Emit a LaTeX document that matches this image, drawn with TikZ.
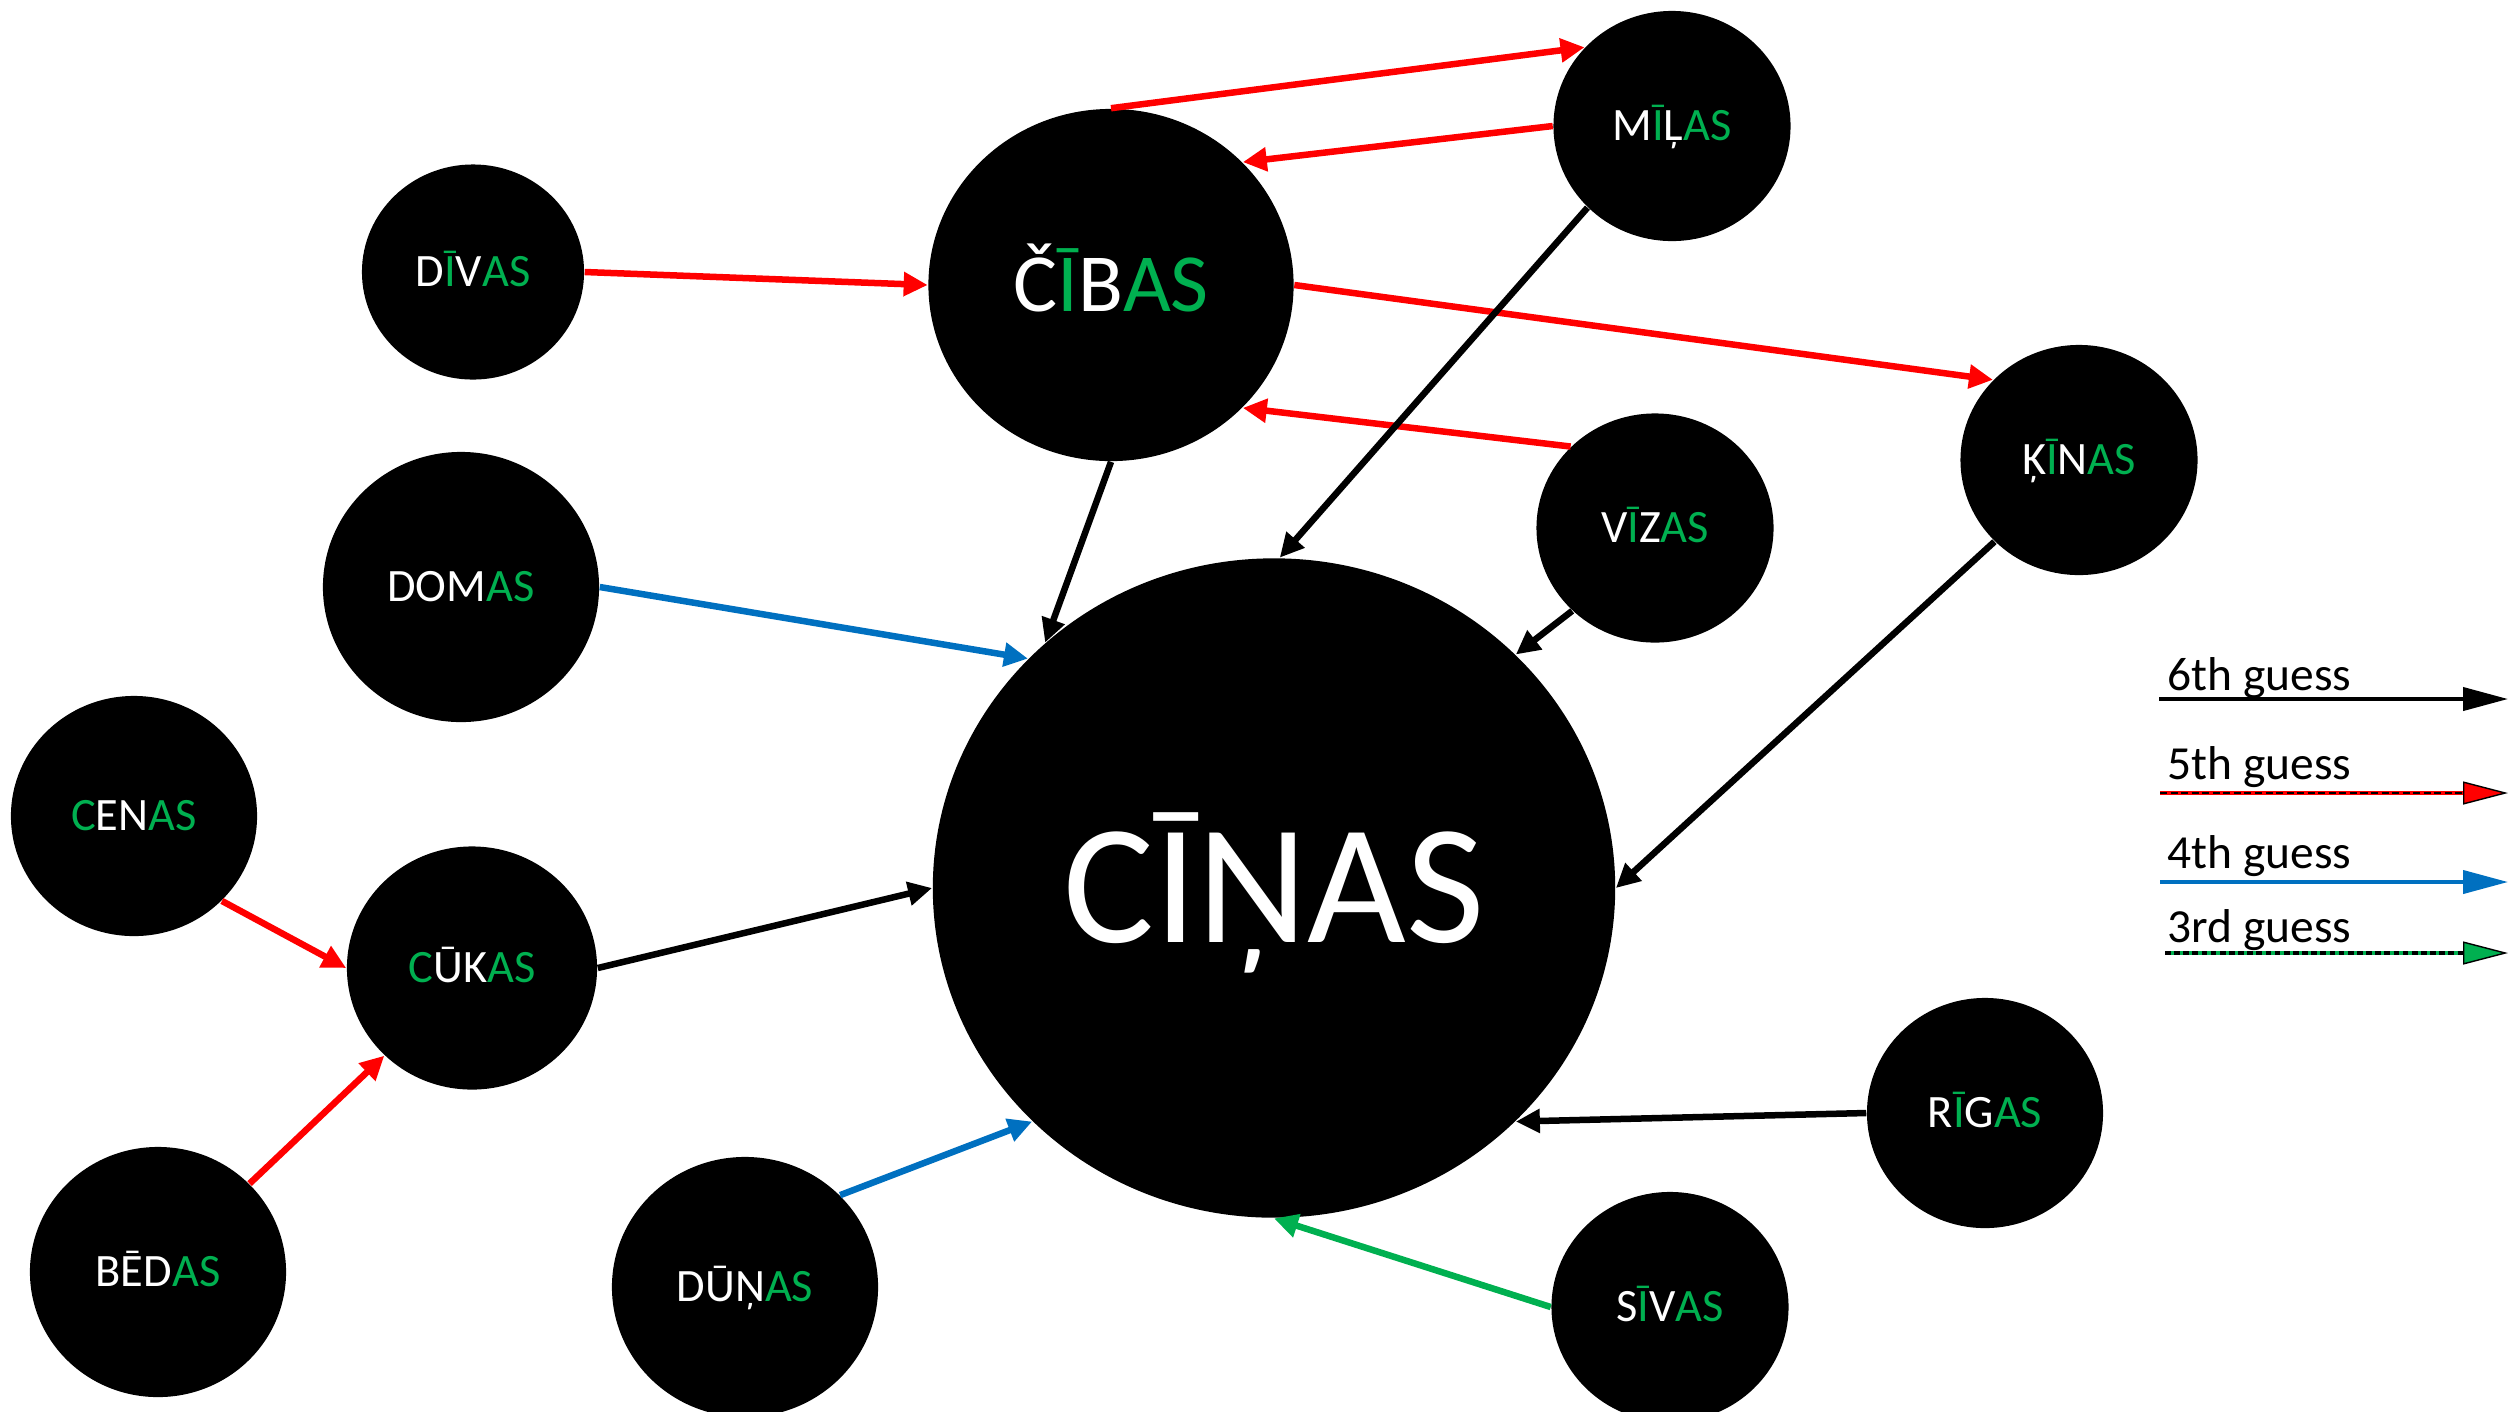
\documentclass[tikz,border=0pt]{standalone}
\usepackage{fontspec}
\setmainfont{Carlito}
\usetikzlibrary{arrows.meta}
\usetikzlibrary{shapes.geometric}

\definecolor{hitgreen}{RGB}{0,176,80}
\definecolor{guessblue}{RGB}{0,112,192}
\newcommand{\hit}[1]{\textcolor{hitgreen}{#1}}

\begin{document}
\begin{tikzpicture}[x=0.01cm,y=-0.01cm,>/.tip={Triangle[length=0.24cm,width=0.23cm]},
	word/.style={shape=ellipse,fill=black,inner sep=0pt,text=white,text height=8.3pt,text depth=0pt,font=\fontsize{13.2}{16}\selectfont},
	sixth/.style={black,line width=0.065cm},
	fifth/.style={red,line width=0.065cm},
	fourth/.style={guessblue,line width=0.065cm},
	third/.style={hitgreen,line width=0.065cm},
	key/.style={line width=0.04cm},
	keytext/.style={anchor=base west,inner sep=0pt,font=\fontsize{13.5}{16}\selectfont}]
	\clip (0,0) rectangle (2509,1411);

	\draw (1274,888) node (cinas) [word,minimum width=6.82cm,minimum height=6.59cm,text height=30.7pt,font=\fontsize{48.5}{56}\selectfont] {CĪŅAS};
	\draw (1111,285) node (cibas) [word,minimum width=3.65cm,minimum height=3.52cm,text height=14.9pt,font=\fontsize{23.5}{28}\selectfont] {Č\hit{Ī}B\hit{AS}};

	\draw (1672,126) node (milas) [word,minimum width=2.37cm,minimum height=2.30cm] {M\hit{Ī}Ļ\hit{AS}};
	\draw (473,272) node (divas) [word,minimum width=2.22cm,minimum height=2.15cm] {D\hit{Ī}V\hit{AS}};
	\draw (461,587) node (domas) [word,minimum width=2.76cm,minimum height=2.70cm] {DOM\hit{AS}};
	\draw (1655,528) node (vizas) [word,minimum width=2.37cm,minimum height=2.29cm] {V\hit{Ī}Z\hit{AS}};
	\draw (2079,460) node (kinas) [word,minimum width=2.37cm,minimum height=2.30cm] {Ķ\hit{Ī}N\hit{AS}};
	\draw (134,816) node (cenas) [word,minimum width=2.46cm,minimum height=2.40cm] {\hit{C}EN\hit{AS}};
	\draw (472,968) node (cukas) [word,minimum width=2.50cm,minimum height=2.43cm] {\hit{C}ŪK\hit{AS}};
	\draw (158,1272) node (bedas) [word,minimum width=2.56cm,minimum height=2.50cm] {BĒD\hit{AS}};
	\draw (745,1287) node (dunas) [word,minimum width=2.66cm,minimum height=2.60cm] {DŪŅ\hit{AS}};
	\draw (1985,1113) node (rigas) [word,minimum width=2.36cm,minimum height=2.30cm] {R\hit{Ī}G\hit{AS}};
	\draw (1670,1307) node (sivas) [word,minimum width=2.37cm,minimum height=2.30cm] {S\hit{Ī}V\hit{AS}};

	% 5th guess
	\draw[fifth] (cibas.north) edge[->] (milas.138)
		(milas.west) edge[->] (cibas.43)
		(divas.east) edge[->] (cibas.west)
		(cibas.east) edge[->] (kinas.137)
		(vizas.136) edge[->] (cibas.317)
		(cenas.316) edge[->] (cukas.west)
		(bedas.44) edge[->] (cukas.225);

	% 6th guess
	\draw[sixth] (cibas.south) edge[->] (cinas.133)
		(milas.224) edge[->] (cinas.89)
		(vizas.225) edge[->] (cinas.44)
		(kinas.224) edge[->] (cinas.east)
		(cukas.east) edge[->] (cinas.west)
		(rigas.west) edge[->] (cinas.316);

	% 4th and 3rd guess
	\draw[fourth] (domas.east) edge[->] (cinas.137)
		(dunas.44) edge[->] (cinas.224);
	\draw[third] (sivas.west) edge[->] (cinas.south);

	% legend
	\coordinate (k6a) at (2159,699);
	\coordinate (k6b) at (2508,699);
	\coordinate (k5a) at (2160,793);
	\coordinate (k5b) at (2508,793);
	\coordinate (k5c) at (2463,793);
	\coordinate (k4a) at (2160,882);
	\coordinate (k4b) at (2508,882);
	\coordinate (k3a) at (2165,953);
	\coordinate (k3b) at (2508,953);
	\coordinate (k3c) at (2463,953);

	\draw (2167,690) node (t6) [keytext] {6th guess};
	\draw (2167,779) node (t5) [keytext] {5th guess};
	\draw (2167,868) node (t4) [keytext] {4th guess};
	\draw (2167,942) node (t3) [keytext] {3rd guess};

	\draw[key,black,-{Triangle[length=0.45cm,width=0.23cm]}] (k6a) -- (k6b);
	\draw[key,red,-{Triangle[length=0.45cm,width=0.23cm,fill=red,color=black,line width=0.4pt]}] (k5a) -- (k5b);
	\draw[black,line width=0.5pt,dash pattern=on 2pt off 1pt] (k5a) -- (k5c);
	\draw[key,guessblue,-{Triangle[length=0.45cm,width=0.23cm]}] (k4a) -- (k4b);
	\draw[key,hitgreen,-{Triangle[length=0.45cm,width=0.23cm,fill=hitgreen,color=black,line width=0.4pt]}] (k3a) -- (k3b);
	\draw[black,line width=1.1pt,dash pattern=on 1.6pt off 1pt] (k3a) -- (k3c);
\end{tikzpicture}
\end{document}
